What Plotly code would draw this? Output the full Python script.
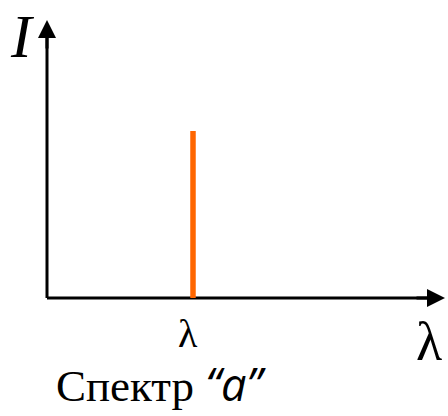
import plotly.graph_objects as go

# Line spectrum: a single emission line at wavelength lambda_0
wavelengths = [1.46]
intensities = [1.67]
line_color = "#FF6600"

# Axis extents (arbitrary units) and arrow tips
x_axis_end = 3.98
y_axis_end = 2.78
y_min, y_max = -1.18, 2.98

fig = go.Figure()

# Axes drawn as lines so the spectral line sits on top of them
fig.add_trace(go.Scatter(x=[0, x_axis_end - 0.05], y=[0, 0], mode="lines",
                         line=dict(color="black", width=3), hoverinfo="skip"))
fig.add_trace(go.Scatter(x=[0, 0], y=[0, y_axis_end - 0.05], mode="lines",
                         line=dict(color="black", width=3), hoverinfo="skip"))

# Spectral line(s)
for wl, inten in zip(wavelengths, intensities):
    fig.add_trace(go.Scatter(x=[wl, wl], y=[0, inten], mode="lines",
                             line=dict(color=line_color, width=5.5), hoverinfo="skip"))

# Arrowheads at the axis ends
arrow_common = dict(showarrow=True, arrowhead=2, arrowsize=1.2, arrowwidth=3,
                    arrowcolor="black", text="", xref="x", yref="y",
                    axref="x", ayref="y")
fig.add_annotation(x=x_axis_end, y=0, ax=x_axis_end - 0.3, ay=0, **arrow_common)
fig.add_annotation(x=0, y=y_axis_end, ax=0, ay=y_axis_end - 0.3, **arrow_common)

serif = "Liberation Serif"
fig.add_annotation(x=-0.25, y=y_max, yanchor="top", text="<i>I</i>", showarrow=False,
                   font=dict(family=serif, size=62, color="black"))
fig.add_annotation(x=wavelengths[0] - 0.05, y=-0.35, text="λ", showarrow=False,
                   font=dict(family=serif, size=40, color="black"))
fig.add_annotation(x=3.82, y=-0.44, text="λ", showarrow=False,
                   font=dict(family=serif, size=54, color="black"))
fig.add_annotation(x=0.07, y=y_min, xanchor="left", yanchor="bottom", showarrow=False,
                   text="Спектр <span style='font-family:Open Sans'><i>“a”</i></span>",
                   font=dict(family=serif, size=45, color="black"))

fig.update_layout(
    width=448, height=416,
    margin=dict(l=0, r=0, t=0, b=0),
    paper_bgcolor="white", plot_bgcolor="white",
    showlegend=False,
    xaxis=dict(range=[-0.47, 4.01], visible=False, fixedrange=True),
    yaxis=dict(range=[y_min, y_max], visible=False, fixedrange=True),
)

fig.write_html("out.html")
